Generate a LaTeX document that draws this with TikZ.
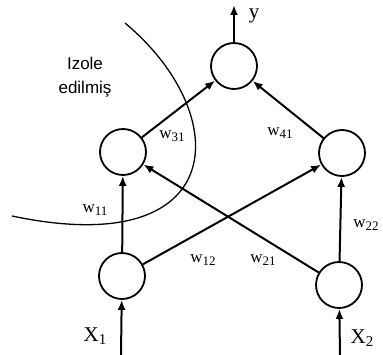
\documentclass[tikz,border=0pt]{standalone}
\usepackage{fontspec}
\setmainfont{Liberation Serif}
\newfontfamily\capfont{Liberation Sans}
\usetikzlibrary{arrows.meta}
\newcommand{\wsub}[1]{w\raisebox{-2.5pt}{\fontsize{13}{13}\selectfont#1}}
\newcommand{\xsub}[1]{X\raisebox{-3pt}{\fontsize{15}{15}\selectfont#1}}
\begin{document}
\begin{tikzpicture}[x=1pt,y=-1pt,
  neuron/.style={circle,draw,line width=1.8pt,minimum size=46pt,inner sep=0pt},
  conn/.style={line width=2pt,-{Latex[length=10pt,width=8pt]}},
  wlab/.style={font=\fontsize{17}{17}\selectfont,inner sep=1pt},
  iolab/.style={font=\fontsize{21}{21}\selectfont,inner sep=1pt}]
\useasboundingbox (0,0) rectangle (383,355);
\node[neuron] (o) at (234,66) {};
\node[neuron] (h1) at (123,152) {};
\node[neuron] (h2) at (342,153) {};
\node[neuron] (i1) at (122,276) {};
\node[neuron] (i2) at (339,285) {};
\coordinate (yend) at (234,5);
\coordinate (x1s) at (121,355);
\coordinate (x2s) at (340,355);
\draw[conn] (o) -- (yend);
\draw[conn] (x1s) -- (i1);
\draw[conn] (x2s) -- (i2);
\draw[conn] (h1) -- (o);
\draw[conn] (h2) -- (o);
\draw[conn] (i1) -- (h1);
\draw[conn] (i2) -- (h2);
\draw[conn] (i1) -- (h2);
\draw[conn] (i2) -- (h1);
\draw[line width=1.3pt] (125,23) .. controls (235,115) and (230,262) .. (12,216);
\node[iolab] (ylab) at (254,16) {y};
\node[iolab] (x1lab) at (95,336) {\xsub{1}};
\node[iolab] (x2lab) at (362,338) {\xsub{2}};
\node[wlab] (w31) at (172,136) {\wsub{31}};
\node[wlab] (w41) at (280,133) {\wsub{41}};
\node[wlab] (w11) at (95,210) {\wsub{11}};
\node[wlab] (w12) at (203,260) {\wsub{12}};
\node[wlab] (w21) at (263,260) {\wsub{21}};
\node[wlab] (w22) at (366,225) {\wsub{22}};
\node[font=\capfont\fontsize{17}{24}\selectfont,align=center] (cap) at (85,77) {Izole\\edilmiş};
\end{tikzpicture}
\end{document}
